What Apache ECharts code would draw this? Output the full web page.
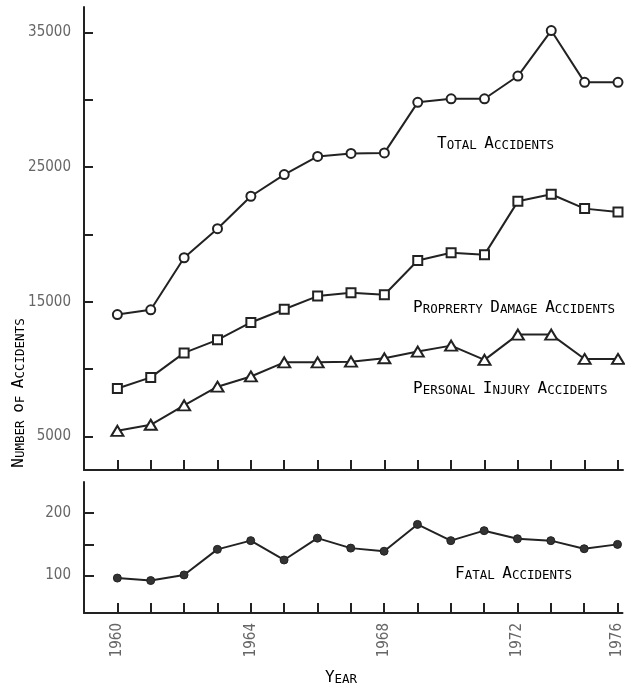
<!DOCTYPE html>
<html>
<head>
<meta charset="utf-8">
<script src="https://cdn.jsdelivr.net/npm/echarts@6/dist/echarts.min.js"></script>
<style>
html,body{margin:0;padding:0;background:#fff;}
#chart{width:625px;height:685px;}
</style>
</head>
<body>
<div id="chart"></div>
<script>
// ---- data ----
const tickLabelIndex = [0, 4, 8, 12, 15];
const tickLabels = ['1960', '1964', '1968', '1972', '1976'];
const totalAccidents   = [14050, 14400, 18270, 20430, 22840, 24450, 25800, 26020, 26060, 29815, 30080, 30080, 31770, 35150, 31300, 31300];
const propertyDamage   = [8560, 9380, 11200, 12170, 13460, 14440, 15420, 15670, 15520, 18070, 18640, 18500, 22460, 22990, 21920, 21670];
const personalInjury   = [5410, 5860, 7300, 8690, 9450, 10500, 10500, 10550, 10800, 11300, 11740, 10680, 12560, 12560, 10750, 10750];
const fatalAccidents   = [96, 92, 101, 142, 156, 125, 160, 144, 139, 182, 156, 172, 159, 156, 143, 150];
const topTicks   = [5000, 10000, 15000, 20000, 25000, 30000, 35000];
const topLabels  = [5000, 15000, 25000, 35000];
const botTicks   = [100, 150, 200];
const botLabels  = [100, 200];

const pairs = arr => arr.map((v, i) => [i, v]);
const xTicks = totalAccidents.map((v, i) => i);

const INK = '#222';
const GREY = '#666';
const NUMFONT = '"Liberation Sans Narrow", "DejaVu Sans Condensed", "Roboto Condensed", sans-serif';
const CAPFONT = '"DejaVu Sans Mono", monospace';
const rich = {
  a: { fontFamily: CAPFONT, fontSize: 16, color: '#333', verticalAlign: 'bottom', lineHeight: 18 },
  b: { fontFamily: CAPFONT, fontSize: 12.5, color: '#333', verticalAlign: 'bottom', lineHeight: 18 }
};
function smallCaps(str) {
  return str.split(' ').map(w => '{a|' + w[0] + '}' + (w.length > 1 ? '{b|' + w.slice(1).toUpperCase() + '}' : '')).join('{b| }');
}
function label(str, x, y, align, rot) {
  return {
    type: 'text', x: x, y: y, rotation: rot || 0, silent: true,
    style: { text: smallCaps(str), rich: rich, align: align || 'left', verticalAlign: 'middle' }
  };
}

const xAxisCommon = {
  type: 'value', min: -1, max: 15.15,
  axisLine: { show: true, onZero: false, lineStyle: { color: INK, width: 2 } },
  axisTick: { show: true, inside: true, length: 10, customValues: xTicks, lineStyle: { color: INK, width: 2 } },
  splitLine: { show: false }
};
const yAxisCommon = {
  type: 'value',
  axisLine: { show: true, onZero: false, lineStyle: { color: INK, width: 2 } },
  splitLine: { show: false }
};
const plain = v => String(v);

const chart = echarts.init(document.getElementById('chart'), null, { renderer: 'canvas' });
chart.setOption({
  backgroundColor: '#fff',
  animation: false,
  grid: [
    { left: 84, right: 2, top: 7, height: 463 },
    { left: 84, right: 2, top: 482, height: 131 }
  ],
  xAxis: [
    Object.assign({}, xAxisCommon, { gridIndex: 0, axisLabel: { show: false } }),
    Object.assign({}, xAxisCommon, {
      gridIndex: 1,
      axisLabel: {
        show: true, rotate: 90, margin: 10, customValues: tickLabelIndex,
        formatter: v => tickLabels[tickLabelIndex.indexOf(Math.round(v))] || '',
        color: GREY, fontSize: 15, fontFamily: NUMFONT
      }
    })
  ],
  yAxis: [
    Object.assign({}, yAxisCommon, {
      gridIndex: 0, min: 2500, max: 36900,
      axisTick: { show: true, inside: true, length: 9, customValues: topTicks, lineStyle: { color: INK, width: 2 } },
      axisLabel: { show: true, margin: 13, customValues: topLabels, formatter: plain, color: GREY, fontSize: 15, fontFamily: NUMFONT }
    }),
    Object.assign({}, yAxisCommon, {
      gridIndex: 1, min: 40, max: 250,
      axisTick: { show: true, inside: true, length: 10, customValues: botTicks, lineStyle: { color: INK, width: 2 } },
      axisLabel: { show: true, margin: 13, customValues: botLabels, formatter: plain, color: GREY, fontSize: 15, fontFamily: NUMFONT }
    })
  ],
  series: [
    {
      name: 'Total Accidents', type: 'line', xAxisIndex: 0, yAxisIndex: 0,
      data: pairs(totalAccidents), symbol: 'circle', symbolSize: 9,
      lineStyle: { color: INK, width: 2 },
      itemStyle: { color: '#fff', borderColor: INK, borderWidth: 2 }
    },
    {
      name: 'Proprerty Damage Accidents', type: 'line', xAxisIndex: 0, yAxisIndex: 0,
      data: pairs(propertyDamage), symbol: 'rect', symbolSize: 9,
      lineStyle: { color: INK, width: 2 },
      itemStyle: { color: '#fff', borderColor: INK, borderWidth: 2 }
    },
    {
      name: 'Personal Injury Accidents', type: 'line', xAxisIndex: 0, yAxisIndex: 0,
      data: pairs(personalInjury), symbol: 'triangle', symbolSize: [12, 10],
      lineStyle: { color: INK, width: 2 },
      itemStyle: { color: '#fff', borderColor: INK, borderWidth: 2 }
    },
    {
      name: 'Fatal Accidents', type: 'line', xAxisIndex: 1, yAxisIndex: 1,
      data: pairs(fatalAccidents), symbol: 'circle', symbolSize: 8,
      lineStyle: { color: INK, width: 2 },
      itemStyle: { color: '#333', borderColor: INK, borderWidth: 1 }
    }
  ],
  graphic: [
    label('Total Accidents', 437, 143),
    label('Proprerty Damage Accidents', 413, 307),
    label('Personal Injury Accidents', 413, 388),
    label('Fatal Accidents', 455, 573),
    label('Year', 341, 677, 'center'),
    label('Number of Accidents', 18, 393, 'center', Math.PI / 2)
  ]
});
</script>
</body>
</html>
